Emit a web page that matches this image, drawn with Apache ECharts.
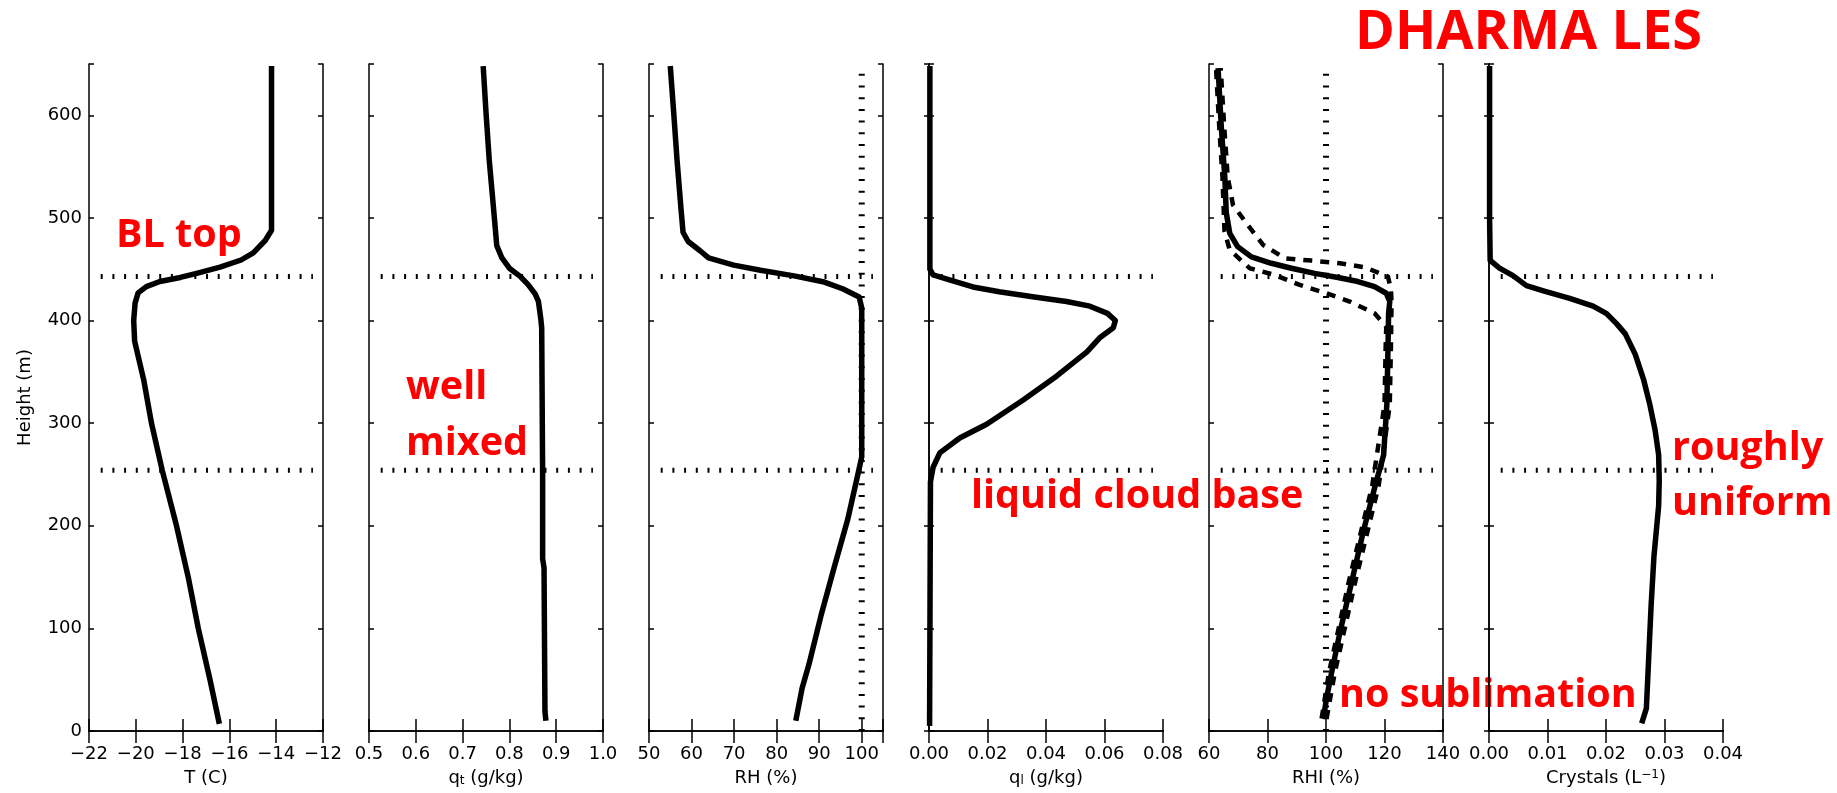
<!DOCTYPE html>
<html>
<head>
<meta charset="utf-8">
<script src="https://cdn.jsdelivr.net/npm/echarts@6/dist/echarts.min.js"></script>
<style>
  html, body { margin: 0; padding: 0; background: #fff; }
  #main { width: 1837px; height: 793px; }
</style>
</head>
<body>
<div id="main"></div>
<script>
// heights of the two dotted reference levels (m)
var blTop = 443;
var cloudBase = 254;
var satLine = 100;

// panel 1: temperature
var tHeight = [7, 50, 100, 150, 200, 254, 300, 342, 380, 400, 417, 427, 433, 438, 442, 446, 452, 459, 466, 478, 488, 500, 550, 600, 648];
var tValue  = [-16.43, -16.83, -17.33, -17.76, -18.26, -18.87, -19.33, -19.66, -20.05, -20.09, -20.03, -19.9, -19.55, -18.97, -18.1, -17.4, -16.4, -15.5, -14.98, -14.47, -14.2, -14.2, -14.2, -14.2, -14.2];

// panel 2: total water
var qtHeight = [10, 19, 159, 168, 252, 393, 402, 418.6, 426, 435, 443, 451, 461, 473, 510, 556, 603, 648];
var qtValue  = [0.878, 0.876, 0.874, 0.871, 0.871, 0.869, 0.867, 0.862, 0.855, 0.84, 0.823, 0.80, 0.784, 0.773, 0.766, 0.757, 0.75, 0.744];

// panel 3: RH
var rhHeight = [10, 42, 65, 112, 159, 206, 252, 267, 300, 350, 412, 423, 431, 437.5, 443.5, 449, 454, 461, 468, 477, 486, 510, 556, 603, 648];
var rhValue  = [84.5, 86.0, 87.6, 90.4, 93.5, 96.7, 99.2, 100, 100, 100, 100, 99.4, 95.5, 91.2, 84.1, 76.2, 69.9, 64.0, 62.0, 59.2, 58.0, 57.5, 56.6, 55.8, 55.0];

// panel 4: liquid water
var qlHeight = [5, 243, 257, 271, 285.6, 299, 322.6, 346, 369.5, 383.5, 393, 400, 407, 414, 418.6, 423, 428, 432.7, 439.6, 444.5, 450, 500, 648];
var qlValue  = [0.0002, 0.0005, 0.0014, 0.0037, 0.0105, 0.0197, 0.0322, 0.0437, 0.054, 0.0585, 0.063, 0.0637, 0.061, 0.055, 0.047, 0.036, 0.024, 0.015, 0.007, 0.0014, 0.0003, 0.0003, 0.0003];

// panel 5: RHI, mean and two dashed
var rhiHeight = [12.4, 32, 56.8, 96.5, 145.5, 195, 239, 269, 318, 374.6, 407, 418.5, 426.6, 433, 438, 442, 446, 451, 455.8, 462, 472, 485, 505, 540, 589, 646];
var rhiValue  = [99.1, 100.2, 101.9, 104.8, 108.8, 112.8, 116.8, 119.7, 120.8, 121.2, 121.4, 121.8, 120.6, 116.6, 110.9, 104.1, 96.1, 88.2, 81.3, 74.5, 69.8, 67.1, 65.9, 65.4, 64.2, 63.1];
var rhiHiHeight = [12, 56.8, 145.5, 239, 318, 374.6, 418.5, 430, 442.8, 452, 455.8, 458.4, 460.7, 473.7, 494.8, 512.6, 540, 589, 646];
var rhiHiValue  = [100.2, 103, 110, 118, 121.8, 122.2, 122.4, 122.2, 121.2, 113.2, 104.7, 95.0, 85.9, 78.5, 72.8, 68.2, 66.4, 65.2, 64.0];
var rhiLoHeight = [12, 56.8, 145.5, 239, 318, 374.6, 394, 407, 418.5, 426.6, 434.7, 444.4, 451, 468.8, 487, 540, 589, 646];
var rhiLoValue  = [98.5, 101, 107.8, 115.8, 120, 120.4, 120.6, 116.6, 108.1, 100.1, 91.0, 82.5, 73.9, 67.1, 65.3, 64.6, 63.5, 62.4];

// panel 6: ice crystals
var crHeight = [7.5, 22, 71.5, 121, 170.5, 195, 219.5, 244, 269, 293, 318, 343, 367, 387, 397, 406.8, 414, 421.6, 429, 434, 443.8, 451, 458.6, 500, 648];
var crValue  = [0.0261, 0.0269, 0.0273, 0.0277, 0.0282, 0.0286, 0.029, 0.0291, 0.029, 0.0284, 0.0275, 0.0264, 0.025, 0.0233, 0.0218, 0.0201, 0.0178, 0.0138, 0.0093, 0.0064, 0.0041, 0.0018, 0.0002, 0.0001, 0.0001];

function pairs(xs, hs) {
    var out = [];
    for (var i = 0; i < xs.length; i++) out.push([xs[i], hs[i]]);
    return out;
}

var tickFont = 'DejaVu Sans';
var rich = {
    sub: { fontSize: 12, lineHeight: 12, verticalAlign: 'bottom', fontFamily: tickFont, color: '#000' },
    sup: { fontSize: 12, lineHeight: 12, verticalAlign: 'top', fontFamily: tickFont, color: '#000' }
};

var panels = [
    { min: -22, max: -12, interval: 2, name: 'T (C)', fmt: function (v) { return String(v).replace('-', '\u2212'); } },
    { min: 0.5, max: 1.0, interval: 0.1, name: 'q{sub|t} (g/kg)', fmt: function (v) { return v.toFixed(1); } },
    { min: 50, max: 105, interval: 10, name: 'RH (%)', fmt: function (v) { return v <= 100 ? String(v) : ''; } },
    { min: 0, max: 0.08, interval: 0.02, name: 'q{sub|l} (g/kg)', fmt: function (v) { return v.toFixed(2); } },
    { min: 60, max: 140, interval: 20, name: 'RHI (%)', fmt: function (v) { return String(v); } },
    { min: 0, max: 0.04, interval: 0.01, name: 'Crystals (L{sup|\u22121})', fmt: function (v) { return v.toFixed(2); } }
];

var grids = [], xAxes = [], yAxes = [], series = [];
var axisLine = { show: true, lineStyle: { color: '#000', width: 1.5 } };
var tickStyle = { color: '#000', width: 1.5 };

panels.forEach(function (p, i) {
    grids.push({ left: 89 + 280 * i, top: 64, width: 234, height: 667 });
    xAxes.push({
        type: 'value', gridIndex: i, position: 'bottom', min: p.min, max: p.max, interval: p.interval,
        axisLine: axisLine,
        axisTick: { show: true, inside: true, length: 12, lineStyle: tickStyle },
        axisLabel: { margin: 14, color: '#000', fontFamily: tickFont, fontSize: 18, formatter: p.fmt },
        splitLine: { show: false },
        name: p.name, nameLocation: 'middle', nameGap: 38,
        nameTextStyle: { color: '#000', fontFamily: tickFont, fontSize: 18, rich: rich }
    });
    xAxes.push({
        type: 'value', gridIndex: i, position: 'top', min: p.min, max: p.max, interval: p.interval,
        axisLine: axisLine,
        axisTick: { show: true, inside: true, length: 12, lineStyle: tickStyle },
        axisLabel: { show: false },
        splitLine: { show: false }
    });
    yAxes.push({
        type: 'value', gridIndex: i, position: 'left', min: 0, max: 650, interval: 100,
        axisLine: axisLine,
        axisTick: { show: true, inside: true, length: 5, lineStyle: tickStyle },
        axisLabel: {
            show: i === 0, margin: 7, color: '#000', fontFamily: tickFont, fontSize: 18,
            formatter: function (v) { return v % 100 === 0 ? String(v) : ''; }
        },
        splitLine: { show: false },
        name: i === 0 ? 'Height (m)' : '', nameLocation: 'middle', nameGap: 55,
        nameTextStyle: { color: '#000', fontFamily: tickFont, fontSize: 18 }
    });
    yAxes.push({
        type: 'value', gridIndex: i, position: 'right', min: 0, max: 650, interval: 100,
        axisLine: axisLine,
        axisTick: { show: true, inside: true, length: 5, lineStyle: tickStyle },
        axisLabel: { show: false },
        splitLine: { show: false }
    });

    // dotted reference levels
    var x0 = p.min + 0.05 * (p.max - p.min);
    var x1 = p.min + 0.957 * (p.max - p.min);
    [blTop, cloudBase].forEach(function (h) {
        series.push({
            type: 'line', xAxisIndex: 2 * i, yAxisIndex: 2 * i, symbol: 'none', silent: true, clip: false,
            data: [[x0, h], [x1, h]],
            lineStyle: { color: '#000', width: 5, type: [2, 9.7], cap: 'butt' }
        });
    });
});

// saturation lines in RH and RHI panels
[2, 4].forEach(function (i) {
    series.push({
        type: 'line', xAxisIndex: 2 * i, yAxisIndex: 2 * i, symbol: 'none', silent: true, clip: false,
        data: [[satLine, 0], [satLine, 650]],
        lineStyle: { color: '#000', width: 6, type: [2, 9.7], cap: 'butt' }
    });
});

var profiles = [
    [0, tValue, tHeight, 'solid'],
    [1, qtValue, qtHeight, 'solid'],
    [2, rhValue, rhHeight, 'solid'],
    [3, qlValue, qlHeight, 'solid'],
    [4, rhiHiValue, rhiHiHeight, [9, 8]],
    [4, rhiLoValue, rhiLoHeight, [9, 8]],
    [4, rhiValue, rhiHeight, 'solid'],
    [5, crValue, crHeight, 'solid']
];
profiles.forEach(function (pr) {
    series.push({
        type: 'line', xAxisIndex: 2 * pr[0], yAxisIndex: 2 * pr[0], symbol: 'none', clip: false,
        data: pairs(pr[1], pr[2]),
        lineStyle: { color: '#000', width: pr[3] === 'solid' ? 5.5 : 4.5, type: pr[3], cap: 'butt', join: 'round' }
    });
});

var red = '#ff0000';
var noteFont = 'bold 39.5px "Open Sans"';
var myChart = echarts.init(document.getElementById('main'));
var option = {
    animation: false,
    backgroundColor: '#fff',
    grid: grids,
    xAxis: xAxes,
    yAxis: yAxes,
    series: series,
    graphic: [
        { type: 'text', left: 1355, top: 7, style: { text: 'DHARMA LES', font: 'bold 54px "Open Sans"', fill: red } },
        { type: 'text', left: 116, top: 216, style: { text: 'BL top', font: noteFont, fill: red } },
        { type: 'text', left: 406, top: 360, style: { text: 'well\nmixed', font: noteFont, fill: red, lineHeight: 56 } },
        { type: 'text', left: 971, top: 477, style: { text: 'liquid cloud base', font: noteFont, fill: red } },
        { type: 'text', left: 1339, top: 676, style: { text: 'no sublimation', font: noteFont, fill: red } },
        { type: 'text', left: 1672, top: 421, style: { text: 'roughly\nuniform', font: noteFont, fill: red, lineHeight: 55 } }
    ]
};
myChart.setOption(option);
</script>
</body>
</html>
